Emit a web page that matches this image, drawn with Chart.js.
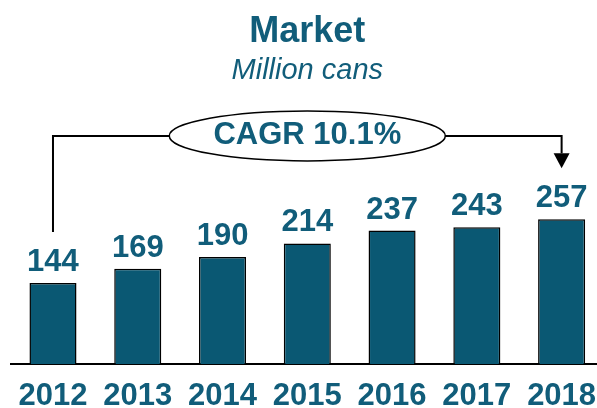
<!DOCTYPE html>
<html>
<head>
<meta charset="utf-8">
<script src="https://cdn.jsdelivr.net/npm/chart.js@4.4.1/dist/chart.umd.min.js"></script>
<style>
  html, body { margin: 0; padding: 0; overflow: hidden; background: #fff; }
  /* a bit wider than the window: the last bar runs to the right edge */
  #wrap { position: absolute; left: 0; top: 0; width: 614px; height: 408px; }
</style>
</head>
<body>
<div id="wrap"><canvas id="marketChart"></canvas></div>
<script>
// data
const years = ['2012', '2013', '2014', '2015', '2016', '2017', '2018'];
const marketCans = [144, 169, 190, 214, 237, 243, 257];
const cagrLabel = 'CAGR 10.1%';

const teal = '#0a5873';
const textTeal = '#115d7a';
const font = '"Liberation Sans", Arial, sans-serif';

// value labels above each bar
const valueLabels = {
  id: 'valueLabels',
  afterDatasetsDraw(chart) {
    const ctx = chart.ctx;
    const meta = chart.getDatasetMeta(0);
    ctx.save();
    ctx.font = 'bold 31px ' + font;
    ctx.fillStyle = textTeal;
    ctx.textAlign = 'center';
    ctx.textBaseline = 'alphabetic';
    meta.data.forEach((bar, i) => {
      ctx.fillText(marketCans[i], bar.x, bar.y - 12);
    });
    ctx.restore();
  }
};

// CAGR bracket: line from first bar up, across, arrow down to last bar
const cagrBracket = {
  id: 'cagrBracket',
  afterDraw(chart, args, opts) {
    const ctx = chart.ctx;
    const meta = chart.getDatasetMeta(0);
    const first = meta.data[0];
    const last = meta.data[meta.data.length - 1];
    const lineY = chart.scales.y.getPixelForValue(opts.level);
    const startY = first.y - opts.gap;
    const tipY = last.y - opts.gap;
    const headH = 15, headW = 8;

    ctx.save();
    ctx.strokeStyle = '#000';
    ctx.lineWidth = 2;
    ctx.beginPath();
    ctx.moveTo(first.x, startY);
    ctx.lineTo(first.x, lineY);
    ctx.lineTo(last.x, lineY);
    ctx.lineTo(last.x, tipY - headH);
    ctx.stroke();

    ctx.fillStyle = '#000';
    ctx.beginPath();
    ctx.moveTo(last.x - headW, tipY - headH);
    ctx.lineTo(last.x + headW, tipY - headH);
    ctx.lineTo(last.x, tipY);
    ctx.closePath();
    ctx.fill();

    const cx = (first.x + last.x) / 2;
    ctx.beginPath();
    ctx.ellipse(cx, lineY, 138, 25, 0, 0, Math.PI * 2);
    ctx.fillStyle = '#fff';
    ctx.fill();
    ctx.lineWidth = 1.5;
    ctx.stroke();

    ctx.font = 'bold 31px ' + font;
    ctx.fillStyle = textTeal;
    ctx.textAlign = 'center';
    ctx.textBaseline = 'middle';
    ctx.fillText(cagrLabel, cx, lineY);
    ctx.restore();
  }
};

new Chart(document.getElementById('marketChart'), {
  type: 'bar',
  data: {
    labels: years,
    datasets: [{
      data: marketCans,
      backgroundColor: teal,
      borderColor: '#000',
      borderWidth: 1.5,
      barPercentage: 0.555,
      categoryPercentage: 1
    }]
  },
  options: {
    responsive: true,
    maintainAspectRatio: false,
    animation: false,
    layout: { autoPadding: false, padding: { left: 10.6, right: 10, top: 0, bottom: -21.2 } },
    plugins: {
      legend: { display: false },
      tooltip: { enabled: false },
      title: {
        display: true,
        text: 'Market',
        color: textTeal,
        font: { family: font, size: 36, weight: 'bold', lineHeight: 1.2 },
        padding: { top: 10, bottom: 0 }
      },
      subtitle: {
        display: true,
        text: 'Million cans',
        color: textTeal,
        font: { family: font, size: 29, style: 'italic', weight: 'normal', lineHeight: 1.2 },
        padding: 0
      },
      cagrBracket: { level: 405, gap: 51 }
    },
    scales: {
      x: {
        grid: { display: false, drawTicks: false },
        border: { display: true, color: '#000', width: 2 },
        ticks: {
          color: textTeal,
          padding: 14,
          maxRotation: 0,
          font: { family: font, size: 31, weight: 'bold', lineHeight: 1.2 }
        }
      },
      y: {
        display: false,
        min: 0,
        max: 490
      }
    }
  },
  plugins: [valueLabels, cagrBracket]
});
</script>
</body>
</html>
